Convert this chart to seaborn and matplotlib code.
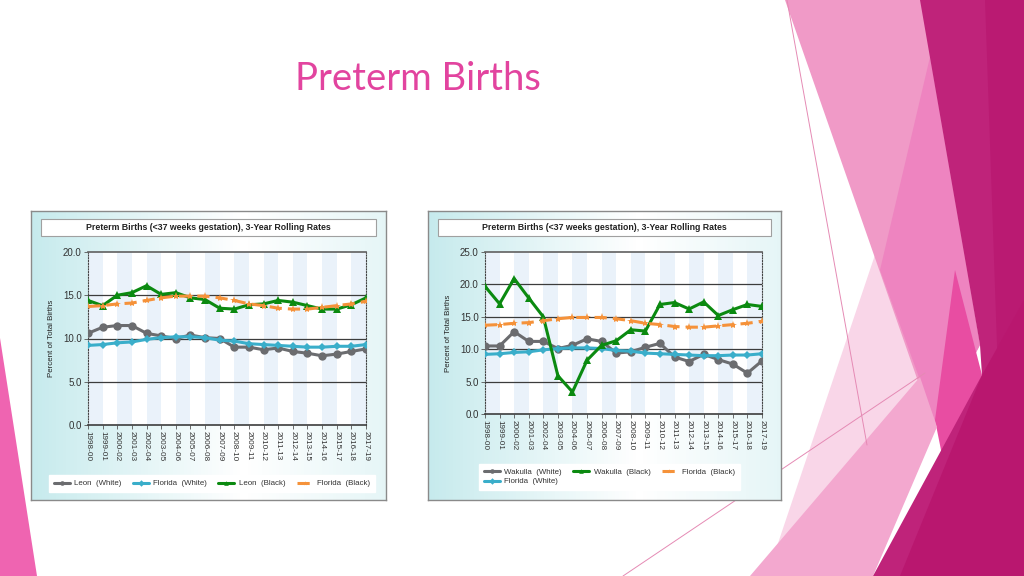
import numpy as np
import pandas as pd
import seaborn as sns
import matplotlib
matplotlib.use('Agg')
import matplotlib.pyplot as plt
from matplotlib.patches import Polygon, Rectangle

sns.set_theme(style='white')
plt.rcParams['font.family'] = ['Liberation Sans', 'DejaVu Sans']

# 数据
periods = ['1998-00', '1999-01', '2000-02', '2001-03', '2002-04', '2003-05', '2004-06',
           '2005-07', '2006-08', '2007-09', '2008-10', '2009-11', '2010-12', '2011-13',
           '2012-14', '2013-15', '2014-16', '2015-17', '2016-18', '2017-19']

leon_white = [10.6, 11.3, 11.5, 11.5, 10.6, 10.3, 10.0, 10.4, 10.1, 10.0,
              9.0, 9.0, 8.7, 8.9, 8.5, 8.3, 8.0, 8.2, 8.5, 8.8]
florida_white = [9.2, 9.3, 9.5, 9.6, 9.9, 10.1, 10.2, 10.2, 10.1, 9.8,
                 9.7, 9.4, 9.3, 9.2, 9.1, 9.0, 9.0, 9.1, 9.1, 9.3]
leon_black = [14.4, 13.8, 15.0, 15.3, 16.1, 15.1, 15.3, 14.7, 14.5, 13.5,
              13.4, 13.9, 14.0, 14.4, 14.2, 13.8, 13.4, 13.4, 13.9, 14.7]
florida_black = [13.7, 13.8, 14.0, 14.1, 14.4, 14.7, 14.9, 14.9, 14.9, 14.7,
                 14.4, 14.0, 13.8, 13.5, 13.4, 13.4, 13.6, 13.8, 14.0, 14.3]
wakulla_white = [10.5, 10.5, 12.7, 11.2, 11.2, 10.1, 10.6, 11.6, 11.2, 9.4,
                 9.6, 10.3, 10.9, 8.8, 8.1, 9.2, 8.4, 7.7, 6.3, 8.2]
wakulla_black = [19.7, 17.0, 20.9, 17.9, 15.0, 5.9, 3.4, 8.3, 10.6, 11.3,
                 13.0, 12.8, 16.9, 17.2, 16.2, 17.3, 15.2, 16.1, 16.9, 16.6]

chart_title = 'Preterm Births (<37 weeks gestation), 3-Year Rolling Rates'

W, H = 1024, 576
fig = plt.figure(figsize=(W / 100, H / 100), dpi=100)
fig.patch.set_facecolor('white')


def box(l, t, r, b):
    return [l / W, 1 - b / H, (r - l) / W, (b - t) / H]


# 背景装饰
deco = fig.add_axes([0, 0, 1, 1], zorder=0)
deco.set_xlim(0, W)
deco.set_ylim(H, 0)
deco.axis('off')
shapes = [
    ([(0, 338), (37, 576), (0, 576)], '#EF64B1'),
    ([(880, 240), (938, 425), (767, 576)], '#F9D6E8'),
    ([(785, 0), (925, 0), (980, 345), (935, 430)], '#F09AC7'),
    ([(930, 57), (980, 345), (937, 427), (880, 270)], '#EE84C0'),
    ([(955, 270), (982, 375), (945, 470), (935, 420)], '#E84DA2'),
    ([(750, 576), (920, 377), (937, 427), (873, 576)], '#F3A8CF'),
    ([(920, 0), (1024, 0), (1024, 576), (873, 576), (982, 375), (980, 345)], '#BF237A'),
    ([(985, 0), (1024, 0), (1024, 576), (1005, 576)], '#BA1A72'),
    ([(982, 375), (1024, 300), (1024, 576), (900, 576)], '#B9176F'),
]
for pts, c in shapes:
    deco.add_patch(Polygon(pts, closed=True, facecolor=c, edgecolor='none'))
deco.plot([787, 867], [0, 445], color='#E58AB4', lw=0.7)
deco.plot([623, 925], [576, 373], color='#E58AB4', lw=0.7)

fig.text(418 / W, 1 - 79 / H, 'Preterm Births', color='#E2449F', fontsize=27.5,
         family='Lato', ha='center', va='center')

grad = np.concatenate([np.linspace(0, 1, 60), np.linspace(1, 0.55, 40)])
gimg = np.ones((10, 100, 3))
c0 = np.array([0.78, 0.92, 0.93])
for i, g in enumerate(grad):
    gimg[:, i, :] = c0 + (1 - c0) * g


def panel(px, ax_box, series, ymax, ncol, leg_box):
    l, t, r, b = px
    bg = fig.add_axes(box(l, t, r, b), zorder=1)
    bg.imshow(gimg, extent=[0, 1, 0, 1], aspect='auto')
    bg.set_xlim(0, 1)
    bg.set_ylim(0, 1)
    bg.set_xticks([])
    bg.set_yticks([])
    for s in bg.spines.values():
        s.set_color('#8A8A8A')
        s.set_linewidth(1)
    fig.patches.append(Rectangle(((l + 10) / W, 1 - (t + 25) / H), (r - l - 20) / W, 17 / H,
                                 transform=fig.transFigure, facecolor='white',
                                 edgecolor='#A0A0A0', lw=0.8, zorder=2))
    fig.text((l + r) / 2 / W, 1 - (t + 16.5) / H, chart_title, fontsize=6.3,
             weight='bold', ha='center', va='center', color='#222222', zorder=3)

    ax = fig.add_axes(box(*ax_box), zorder=3)
    ax.set_facecolor('white')
    n = len(periods)
    for i in range(0, n - 1, 2):
        ax.axvspan(i, i + 1, color='#EAF2FA', lw=0, zorder=0)
    rows = []
    for name, vals, color, marker, ms, dashed in series:
        for i, v in enumerate(vals):
            rows.append({'x': i, 'value': v, 'series': name})
    df = pd.DataFrame(rows)
    names = [s[0] for s in series]
    pal = {s[0]: s[2] for s in series}
    mk = {s[0]: s[3] for s in series}
    ds = {s[0]: ((4, 2) if s[5] else '') for s in series}
    sns.lineplot(data=df, x='x', y='value', hue='series', style='series',
                 hue_order=names, style_order=names, palette=pal, markers=mk, dashes=ds,
                 markeredgewidth=0, linewidth=2.2, ax=ax, legend='full', zorder=4)
    for line, s in zip(ax.get_lines(), series):
        line.set_markersize(s[4])
    ax.set_xlim(0, n - 1)
    ax.set_ylim(0, ymax)
    yt = np.arange(0, ymax + 0.1, 5)
    ax.set_yticks(yt)
    ax.set_yticklabels(['%.1f' % v for v in yt], fontsize=7, color='#333333')
    for v in yt[1:-1]:
        ax.axhline(v, color='#3C3C3C', lw=0.9, zorder=1)
    ax.set_xticks(range(n))
    ax.set_xticklabels(periods, rotation=-90, fontsize=5.9, color='#333333')
    ax.tick_params(axis='both', length=3, width=0.6, pad=1.5, color='#555555',
                   left=True, bottom=True)
    ax.set_xlabel('')
    ax.set_ylabel('Percent of Total Births', fontsize=5.7, color='#222222', labelpad=6)
    ax.spines['top'].set_color('#666666')
    ax.spines['bottom'].set_color('#444444')
    for side in ['left', 'right']:
        ax.spines[side].set_linestyle((0, (1, 1.5)))
        ax.spines[side].set_color('#444444')
        ax.spines[side].set_linewidth(0.8)
    handles, labels = ax.get_legend_handles_labels()
    hmap = dict(zip(labels, handles))
    leg = ax.legend([hmap[k] for k in names], names, ncol=ncol,
                    loc='center left', bbox_to_anchor=box(*leg_box),
                    bbox_transform=fig.transFigure,
                    fontsize=5.7, frameon=True, fancybox=False, edgecolor='white',
                    facecolor='white', framealpha=1, handlelength=2.0, columnspacing=1.4,
                    handletextpad=0.6, borderpad=0.6, labelspacing=0.2, markerscale=0.55)
    for txt in leg.get_texts():
        txt.set_color('#333333')
    return ax


gray, blue, green, orange = '#6B6C6F', '#3AAECA', '#0B8A10', '#F5923A'

left_series = [
    ('Leon  (White)', leon_white, gray, 'o', 6, False),
    ('Florida  (White)', florida_white, blue, 'D', 4.5, False),
    ('Leon  (Black)', leon_black, green, '^', 6, False),
    ('Florida  (Black)', florida_black, orange, '*', 6, True),
]
right_series = [
    ('Wakulla  (White)', wakulla_white, gray, 'o', 6, False),
    ('Florida  (White)', florida_white, blue, 'D', 4.5, False),
    ('Wakulla  (Black)', wakulla_black, green, '^', 6, False),
    ('Florida  (Black)', florida_black, orange, '*', 6, True),
]

panel((31, 211, 386, 500), (88, 252, 366, 425), left_series, 20, 4, (45, 474, 362, 493))
panel((428, 211, 781, 500), (485, 252, 762, 414), right_series, 25, 3, (475, 462, 733, 492))

fig.savefig('out.png', dpi=100, facecolor='white')
